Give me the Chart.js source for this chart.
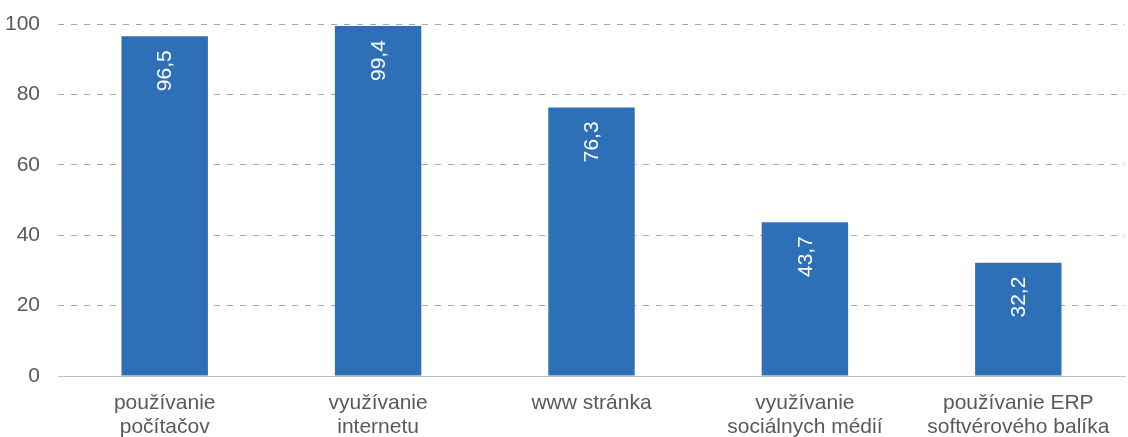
<!DOCTYPE html>
<html>
<head>
<meta charset="utf-8">
<script src="https://cdn.jsdelivr.net/npm/chart.js@4/dist/chart.umd.min.js"></script>
<style>
  html, body { margin: 0; padding: 0; background: #fff; }
  #wrap { width: 1128px; height: 437px; position: relative; }
</style>
</head>
<body>
<div id="wrap"><canvas id="chart"></canvas></div>
<script>
// kategórie a hodnoty (%)
const categories = [
  ['používanie', 'počítačov'],
  ['využívanie', 'internetu'],
  'www stránka',
  ['využívanie', 'sociálnych médií'],
  ['používanie ERP', 'softvérového balíka'],
];
const values = [96.5, 99.4, 76.3, 43.7, 32.2];
const yTicks = [0, 20, 40, 60, 80, 100];

const FONT = "'Liberation Sans', Arial, sans-serif";

// hodnoty v stĺpcoch, otočené o 90°
const barLabels = {
  id: 'barLabels',
  afterDatasetsDraw(chart) {
    const { ctx } = chart;
    const meta = chart.getDatasetMeta(0);
    ctx.save();
    ctx.fillStyle = '#ffffff';
    ctx.font = '21px ' + FONT;
    ctx.textAlign = 'right';
    ctx.textBaseline = 'middle';
    meta.data.forEach((bar, i) => {
      ctx.save();
      ctx.translate(bar.x, bar.y + 14);
      ctx.rotate(-Math.PI / 2);
      ctx.fillText(values[i].toFixed(1).replace('.', ','), 0, 1);
      ctx.restore();
    });
    ctx.restore();
  },
};

new Chart(document.getElementById('chart'), {
  type: 'bar',
  data: {
    labels: categories,
    datasets: [{
      data: values,
      backgroundColor: '#2e70b8',
      borderWidth: 0,
      categoryPercentage: 1,
      barPercentage: 0.405,
    }],
  },
  options: {
    responsive: true,
    maintainAspectRatio: false,
    animation: false,
    layout: { padding: { top: 24, right: 3, left: 0, bottom: 0 } },
    plugins: { legend: { display: false }, tooltip: { enabled: false } },
    scales: {
      x: {
        grid: { display: false },
        border: { display: true, color: '#bfbfbf', width: 1 },
        ticks: { color: '#595959', font: { family: FONT, size: 21, lineHeight: 1.14 }, padding: 7, maxRotation: 0, autoSkip: false },
        afterFit: s => { s.height = 61; },
      },
      y: {
        min: 0,
        max: 100,
        afterBuildTicks: s => { s.ticks = yTicks.map(v => ({ value: v })); },
        grid: {
          drawTicks: false,
          color: c => c.tick && c.tick.value === 0 ? 'rgba(0,0,0,0)' : '#a6a6a6',
        },
        border: { display: false, dash: [6, 7] },
        ticks: { color: '#595959', font: { family: FONT, size: 21 }, padding: 18 },
        afterFit: s => { s.width = 58; s.paddingTop = 0; s.paddingBottom = 0; },
      },
    },
  },
  plugins: [barLabels],
});
</script>
</body>
</html>
